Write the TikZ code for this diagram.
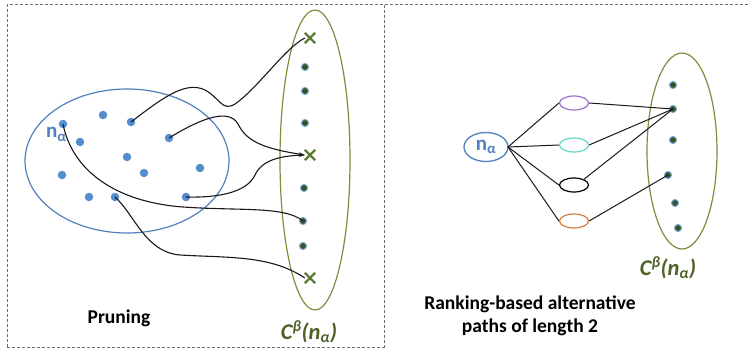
\documentclass[tikz,border=0pt]{standalone}
\usepackage{fontspec}
\setmainfont{Carlito}
\usetikzlibrary{arrows.meta,shapes.geometric,shapes.misc}
\definecolor{nblue}{RGB}{79,129,189}
\definecolor{dotblue}{RGB}{85,140,205}
\definecolor{olivec}{RGB}{118,146,60}
\definecolor{dgreen}{RGB}{55,85,35}
\definecolor{xgreen}{RGB}{95,125,50}
\definecolor{cgreen}{RGB}{79,98,40}
\definecolor{epurple}{RGB}{155,115,205}
\definecolor{eteal}{RGB}{100,215,195}
\definecolor{eorange}{RGB}{210,125,60}
\definecolor{framegray}{RGB}{110,110,110}
\begin{document}
\begin{tikzpicture}[x=1pt,y=-1pt,
  frame/.style={draw=framegray, line width=1pt, dash pattern=on 3pt off 2pt},
  bdot/.style={circle, fill=dotblue, inner sep=0pt, minimum size=8.5pt},
  gdot/.style={circle, fill=dgreen, draw=dotblue!80, line width=1pt, inner sep=0pt, minimum size=7pt},
  xmark/.style={cross out, draw=xgreen, line width=2.3pt, inner sep=0pt, minimum size=8pt},
  conn/.style={draw=black!90, line width=1.1pt},
  rconn/.style={draw=black!90, line width=1pt},
  smallell/.style={ellipse, draw, line width=1.2pt, inner sep=0pt, minimum width=29pt, minimum height=14pt},
  captext/.style={font=\bfseries\fontsize{19.5}{23}\selectfont, align=center},
  nlab/.style={text=nblue, font=\bfseries\fontsize{21}{21}\selectfont},
  clab/.style={text=cgreen, font=\bfseries\itshape\fontsize{22.5}{22}\selectfont}
]
\useasboundingbox (0,0) rectangle (749,350);
% frames
\draw[frame] (7,347) -- (7,5) -- (749,5);
\draw[frame] (384,5) -- (384,350);
\draw[frame] (7,347) -- (384,347);

% ---------- left panel ----------
\node[ellipse, draw=nblue, line width=1.2pt, minimum width=204pt, minimum height=144pt, inner sep=0pt] (setA) at (127,161) {};
\node[ellipse, draw=olivec, line width=1.2pt, minimum width=70pt, minimum height=300pt, inner sep=0pt] (setC) at (315,160) {};

\node[bdot] (a1) at (63,124) {};
\node[bdot] (a2) at (103,115) {};
\node[bdot] (a3) at (131,122) {};
\node[bdot] (a4) at (80,142) {};
\node[bdot] (a5) at (169,138) {};
\node[bdot] (a6) at (127,157) {};
\node[bdot] (a7) at (144,173) {};
\node[bdot] (a8) at (200,168) {};
\node[bdot] (a9) at (62,175) {};
\node[bdot] (a10) at (89,197) {};
\node[bdot] (a11) at (115,197) {};
\node[bdot] (a12) at (186,197) {};

\node[nlab, anchor=base west, inner sep=0pt] (naL) at (46,138) {n\textsubscript{α}};

\node[xmark] (x1) at (310,38) {};
\node[gdot] (g1) at (305,67) {};
\node[gdot] (g2) at (305,91) {};
\node[gdot] (g3) at (305,123) {};
\node[xmark] (x2) at (310,155) {};
\node[gdot] (g4) at (304,188) {};
\node[gdot] (g5) at (303,221) {};
\node[gdot] (g6) at (303,246) {};
\node[xmark] (x3) at (310,278) {};

\draw[conn] (a3.center) .. controls (160,100) and (185,80) .. (205,90)
  .. controls (220,98) and (222,112) .. (235,104)
  .. controls (258,88) and (285,48) .. (x1.west);
\draw[conn, -{Stealth[length=6pt,width=3.5pt]}] (a5.center) .. controls (195,122) and (228,106) .. (238,124)
  .. controls (246,140) and (260,148) .. (x2.west);
\draw[conn, -{Stealth[length=6pt,width=3.5pt]}] (a12.center) .. controls (225,198) and (248,190) .. (255,175)
  .. controls (262,160) and (280,156) .. (x2.west);
\draw[conn] (a1.center) .. controls (72,170) and (115,202) .. (183,207)
  .. controls (240,211) and (285,206) .. (g5.center);
\draw[conn] (a11.center) .. controls (135,215) and (145,252) .. (180,255)
  .. controls (230,258) and (270,255) .. (x3.west);

\node[captext] (prun) at (119,318) {Pruning};
\node[clab] (cL) at (309,332) {C\textsuperscript{β}(n\textsubscript{α})};

% ---------- right panel ----------
\node[ellipse, draw=olivec, line width=1.2pt, minimum width=70pt, minimum height=196pt, inner sep=0pt] (setR) at (682,151) {};
\node[ellipse, draw=nblue, line width=1.3pt, minimum width=44pt, minimum height=29pt, inner sep=0pt, nlab] (naR) at (486,147) {n\textsubscript{α}};

\node[smallell, draw=epurple] (ep) at (574,103) {};
\node[smallell, draw=eteal] (et) at (574,145) {};
\node[smallell, draw=black] (ek) at (574,185) {};
\node[smallell, draw=eorange] (eo) at (574,221) {};

\node[gdot] (r1) at (673,85) {};
\node[gdot] (r2) at (673,109) {};
\node[gdot] (r3) at (673,140) {};
\node[gdot] (r4) at (668,175) {};
\node[gdot] (r5) at (675,203) {};
\node[gdot] (r6) at (678,228) {};

\coordinate (hub) at (508,147);
\draw[rconn] (hub) -- (ep.west);
\draw[rconn] (hub) -- (et.west);
\draw[rconn] (hub) -- (ek.west);
\draw[rconn] (hub) -- (eo.west);
\draw[rconn] (ep.east) -- (r2.center);
\draw[rconn] (et.east) -- (r2.center);
\draw[rconn] (ek.30) -- (r2.center);
\draw[rconn] (eo.east) -- (r4.center);

\node[clab] (cR) at (668,268) {C\textsuperscript{β}(n\textsubscript{α})};
\node[captext] (rank) at (530,316) {Ranking-based alternative\\paths of length 2};
\end{tikzpicture}
\end{document}
